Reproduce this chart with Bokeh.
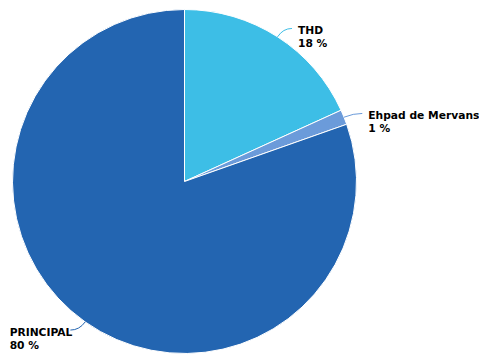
import math
from bokeh.plotting import figure
from bokeh.models import Range1d, ColumnDataSource
from bokeh.core.properties import value
from bokeh.embed import file_html
from bokeh.resources import INLINE

categories = ["THD", "Ehpad de Mervans", "PRINCIPAL"]
values = [18.2, 1.4, 80.4]
pct_labels = ["18 %", "1 %", "80 %"]
colors = ["#3DBEE6", "#6B9BDA", "#2365B1"]

W, H = 479, 354
cx, cy, r = 184, 173, 172
FONT_PX = 10.7
CHAR_W = 6.75   # approx average bold glyph width at FONT_PX
LINE_H = 13

p = figure(width=W, height=H, x_range=Range1d(0, W), y_range=Range1d(0, H),
           output_backend="svg", toolbar_location=None, min_border=0)
p.axis.visible = False
p.grid.visible = False
p.outline_line_color = None
p.background_fill_color = "white"
p.border_fill_color = "white"

total = sum(values)
starts, ends, mids = [], [], []
cum = 0.0
for v in values:
    f0 = cum / total
    cum += v
    f1 = cum / total
    starts.append(math.pi / 2 - 2 * math.pi * f0)
    ends.append(math.pi / 2 - 2 * math.pi * f1)
    mids.append(math.pi / 2 - 2 * math.pi * (f0 + f1) / 2)

src = ColumnDataSource(dict(start=starts, end=ends, color=colors, name=categories))
p.wedge(x=cx, y=cy, radius=r, start_angle="start", end_angle="end",
        direction="clock", fill_color="color", line_color="white", line_width=1,
        source=src)

x0s, y0s, x1s, y1s, cxs, cys = [], [], [], [], [], []
tx, ty1, ty2 = [], [], []
for th, name in zip(mids, categories):
    ax, ay = cx + r * math.cos(th), cy + r * math.sin(th)
    bx, by = cx + (r + 10) * math.cos(th), cy + (r + 10) * math.sin(th)
    side = 1 if math.cos(th) > 0 else -1
    ex, ey = bx + side * 9, by
    x0s.append(ax); y0s.append(ay); x1s.append(ex); y1s.append(ey)
    cxs.append(bx); cys.append(by)
    if side > 0:
        tx.append(ex + 6)
    else:
        tx.append(ex - len(name) * CHAR_W)
    ty1.append(ey - 2.5)
    ty2.append(ey - 2.5 - LINE_H)

p.quadratic(x0=x0s, y0=y0s, x1=x1s, y1=y1s, cx=cxs, cy=cys,
            line_color=colors, line_width=1)

lsrc = ColumnDataSource(dict(x=tx, y1=ty1, y2=ty2, name=categories, pct=pct_labels))
for col in ("y1", "y2"):
    p.text(x="x", y=col, text="name" if col == "y1" else "pct",
           text_align="left", text_baseline="middle",
           text_font=value("DejaVu Sans"), text_font_style="bold",
           text_font_size=f"{FONT_PX}px", text_color="#000000", source=lsrc)

open("out.html", "w").write(file_html(p, INLINE))
